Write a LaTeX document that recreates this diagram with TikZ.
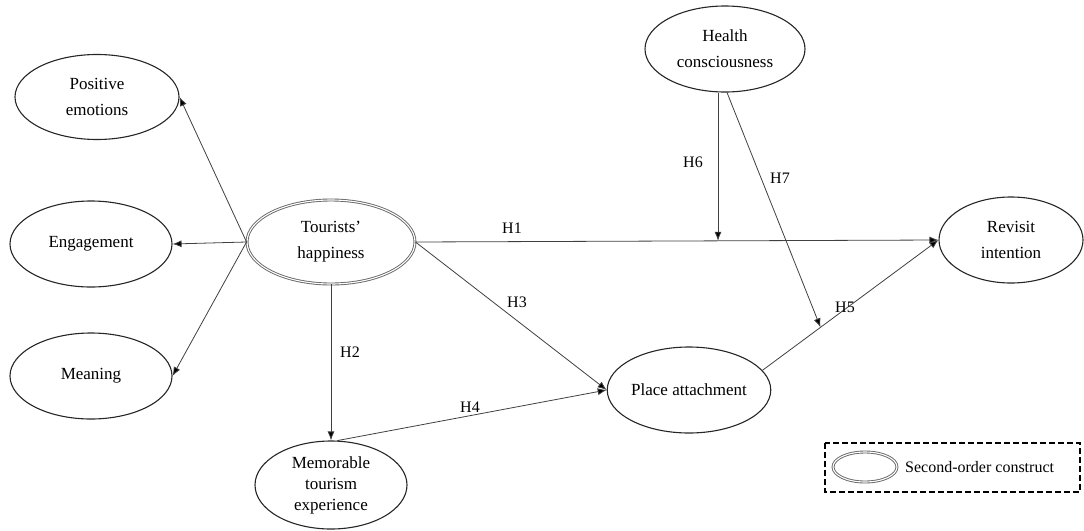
\documentclass[tikz,border=0pt]{standalone}
\usepackage{fontspec}
\setmainfont{Liberation Serif}
\usetikzlibrary{shapes.geometric,arrows.meta,calc}
\begin{document}
\begin{tikzpicture}[x=1pt,y=-1pt,
  construct/.style={ellipse,draw=black!85,line width=1.1pt,inner sep=0pt,
    align=center,font=\fontsize{17}{26}\selectfont},
  second/.style={construct,draw=black!60,line width=0.9pt,double=white,double distance=1.1pt},
  path/.style={draw=black!75,line width=0.8pt,-{Latex[length=9pt,width=7pt,fill=black]}},
  hyp/.style={font=\fontsize{16}{18}\selectfont,inner sep=1pt},
  legendbox/.style={draw=black,line width=1.8pt,dash pattern=on 6pt off 3pt}]
\useasboundingbox (0,0) rectangle (1084,530);

% constructs
\node[construct,minimum width=164,minimum height=85] (pe) at (97,97) {Positive\\emotions};
\node[construct,minimum width=162,minimum height=86] (eng) at (91,244) {Engagement};
\node[construct,minimum width=162,minimum height=86] (mea) at (91,376) {Meaning};
\node[second,minimum width=168,minimum height=84] (th) at (331,242) {Tourists’\\happiness};
\node[construct,minimum width=152,minimum height=88,font=\fontsize{17}{21}\selectfont] (mem) at (331,485) {Memorable\\tourism\\experience};
\node[construct,minimum width=162,minimum height=86] (pa) at (689,390) {Place attachment};
\node[construct,minimum width=160,minimum height=86] (hc) at (725,49) {Health\\consciousness};
\node[construct,minimum width=144,minimum height=86] (ri) at (1011,240) {Revisit\\intention};

% dimensions of tourists' happiness
\draw[path] (th.west) -- (pe.east);
\draw[path] (th.west) -- (eng.east);
\draw[path] (th.west) -- (mea.east);

% hypothesised paths
\draw[path] (th.east) -- (ri.west) coordinate[pos=0.58] (h6end);
\draw[path] (th.south) -- (mem.north);
\draw[path] (th.east) -- (pa.west);
\draw[path] (mem.82) -- (pa.west);
\draw[path] (pa.15) -- (ri.west) coordinate[pos=0.33] (h7end);

% moderating effects of health consciousness
\coordinate (h6start) at ($(hc.south)+(-7,0)$);
\draw[path] (h6start) -- (h6start |- h6end);
\draw[path] ($(hc.south)+(2,0)$) -- (h7end);

% path labels
\node[hyp] (l1) at (512,228) {H1};
\node[hyp] (l2) at (350,352) {H2};
\node[hyp] (l3) at (517,302) {H3};
\node[hyp] (l4) at (470,407) {H4};
\node[hyp] (l5) at (845,307) {H5};
\node[hyp] (l6) at (693,162) {H6};
\node[hyp] (l7) at (780,178) {H7};

% legend
\draw[legendbox] (825,443) rectangle (1080,492);
\node[second,minimum width=64,minimum height=30] (lg) at (865,467) {};
\node[anchor=west,font=\fontsize{16}{18}\selectfont,inner sep=0pt] (lgt) at (905,467) {Second-order construct};
\end{tikzpicture}
\end{document}
